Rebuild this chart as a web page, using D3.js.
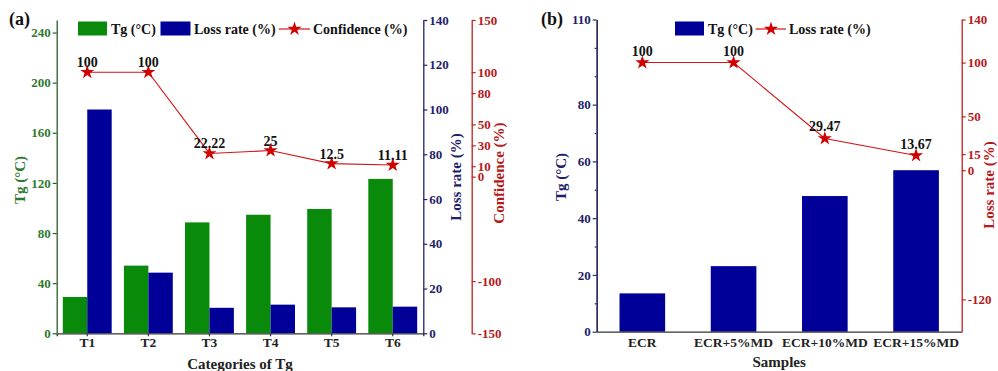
<!DOCTYPE html>
<html><head><meta charset="utf-8">
<script src="https://cdn.jsdelivr.net/npm/d3@7"></script>
<style>
html,body{margin:0;padding:0;background:#fff;}
svg{display:block;font-family:"Liberation Serif","Times New Roman",serif;font-weight:bold;}
</style></head>
<body>
<svg id="chart" width="998" height="371"></svg>
<script>
// ---------- data ----------
const catsA = ["T1","T2","T3","T4","T5","T6"];
const tgA = [29, 54, 88.5, 94.6, 99.2, 123.2];
const lossA = [100, 27.1, 11.4, 12.8, 11.6, 11.9];
const confA = [100, 100, 22.22, 25, 12.5, 11.11];
const confLabelsA = ["100","100","22.22","25","12.5","11.11"];

const catsB = ["ECR","ECR+5%MD","ECR+10%MD","ECR+15%MD"];
const tgB = [13.5, 23.1, 47.8, 56.9];
const lossB = [100, 100, 29.47, 13.67];
const lossLabelsB = ["100","100","29.47","13.67"];

const tgTicksA = [0,40,80,120,160,200,240];
const lossTicksA = [0,20,40,60,80,100,120,140];
const confTicksA = [150,100,80,50,30,10,0,-100,-150];
const tgTicksB = [0,20,40,60,80,110];
const tgMinorB = [10,30,50,70,90,100];
const lossTicksB = [140,100,50,15,0,-120];

// ---------- colors ----------
const GREEN = "#0a8a0a", BLUE = "#000099", RED = "#d21414";
const GREEN_T = "#2f7a2f", NAVY_T = "#1e1e6a", RED_T = "#b51a1a";

const svg = d3.select("#chart");
svg.append("rect").attr("width",998).attr("height",371).attr("fill","#fff");
const fmt = d => String(d); // hyphen minus, like the original
const star = d3.symbol().type(d3.symbolStar).size(62);

function styleAxis(g, color, textColor, size){
  g.selectAll("path.domain").attr("stroke", color).attr("stroke-width",1.3);
  g.selectAll(".tick line").attr("stroke", color).attr("stroke-width",1.2);
  g.selectAll(".tick text").attr("fill", textColor)
    .style("font-family",'"Liberation Serif",serif').style("font-weight","bold")
    .style("font-size", (size||13)+"px");
}
function vTitle(x, y, txt, color){
  svg.append("text").attr("transform",`translate(${x},${y}) rotate(-90)`)
    .attr("text-anchor","middle").attr("fill",color)
    .style("font-size","15px").text(txt);
}

// ================= Panel (a) =================
const aL = 56.7, aR = 423.3, aTop = 20, aBot = 333.3;
const xA = d3.scaleBand().domain(catsA).range([aL,aR]).paddingInner(0.2).paddingOuter(0.1);
const xSubA = d3.scaleBand().domain(["tg","loss"]).range([0,xA.bandwidth()]);
const yTgA = d3.scaleLinear().domain([0,250]).range([aBot,aTop]);
const yLossA = d3.scaleLinear().domain([0,140]).range([aBot,aTop]);
const yConfA = d3.scaleLinear().domain([-150,150]).range([aBot,aTop]);

// bars
svg.append("g").selectAll("rect").data(catsA).join("rect")
  .attr("x", d => xA(d)+xSubA("tg")).attr("width", xSubA.bandwidth())
  .attr("y", (d,i) => yTgA(tgA[i])).attr("height", (d,i) => yTgA(0)-yTgA(tgA[i]))
  .attr("fill", GREEN);
svg.append("g").selectAll("rect").data(catsA).join("rect")
  .attr("x", d => xA(d)+xSubA("loss")).attr("width", xSubA.bandwidth())
  .attr("y", (d,i) => yLossA(lossA[i])).attr("height", (d,i) => yLossA(0)-yLossA(lossA[i]))
  .attr("fill", BLUE);

// axes
const gxA = svg.append("g").attr("transform",`translate(0,${aBot})`)
  .call(d3.axisBottom(xA).tickSizeOuter(0).tickSize(3).tickPadding(1.5));
styleAxis(gxA, "#333", "#222", 13.5);
const gyA = svg.append("g").attr("transform",`translate(${aL},0)`)
  .call(d3.axisLeft(yTgA).tickValues(tgTicksA).tickFormat(fmt).tickSize(4).tickSizeOuter(0).tickPadding(2));
styleAxis(gyA, "#2d5a2d", GREEN_T);
const gy2A = svg.append("g").attr("transform",`translate(${aR},0)`)
  .call(d3.axisRight(yLossA).tickValues(lossTicksA).tickFormat(fmt).tickSize(4).tickSizeOuter(0).tickPadding(2));
styleAxis(gy2A, "#22226b", NAVY_T);
const gy3A = svg.append("g").attr("transform",`translate(471.7,0)`)
  .call(d3.axisRight(yConfA).tickValues(confTicksA).tickFormat(fmt).tickSize(4).tickSizeOuter(0).tickPadding(2));
styleAxis(gy3A, "#c02020", RED_T);

// line
const cxA = d => xA(d)+xA.bandwidth()/2;
svg.append("path").datum(catsA)
  .attr("d", d3.line().x(d=>cxA(d)).y((d,i)=>yConfA(confA[i])))
  .attr("fill","none").attr("stroke",RED).attr("stroke-width",1.1);
svg.append("g").selectAll("path").data(catsA).join("path")
  .attr("d", star).attr("transform",(d,i)=>`translate(${cxA(d)},${yConfA(confA[i])})`)
  .attr("fill", "#d00000");
svg.append("g").selectAll("text").data(catsA).join("text")
  .attr("x", d=>cxA(d)).attr("y",(d,i)=>yConfA(confA[i])-5)
  .attr("text-anchor","middle").attr("fill","#111").style("font-size","14px")
  .text((d,i)=>confLabelsA[i]);

// titles
vTitle(25, 180, "Tg (°C)", GREEN_T);
vTitle(461, 177, "Loss rate (%)", NAVY_T);
vTitle(504, 173, "Confidence (%)", RED_T);
svg.append("text").attr("x",(aL+aR)/2).attr("y",369).attr("text-anchor","middle")
  .attr("fill","#222").style("font-size","15px").text("Categories of Tg");
svg.append("text").attr("x",9).attr("y",25).attr("fill","#111").style("font-size","18px").text("(a)");

// legend (a)
const lgA = svg.append("g");
lgA.append("rect").attr("x",78).attr("y",21.5).attr("width",29).attr("height",14).attr("fill",GREEN);
lgA.append("text").attr("x",111).attr("y",34).style("font-size","14px").attr("fill","#111").text("Tg (°C)");
lgA.append("rect").attr("x",160.5).attr("y",21.5).attr("width",30).attr("height",14).attr("fill",BLUE);
lgA.append("text").attr("x",194).attr("y",34).style("font-size","14px").attr("fill","#111").text("Loss rate (%)");
lgA.append("line").attr("x1",279).attr("x2",310).attr("y1",29).attr("y2",29).attr("stroke",RED).attr("stroke-width",1.2);
lgA.append("path").attr("d",star).attr("transform","translate(294.5,29)").attr("fill","#d00000");
lgA.append("text").attr("x",313).attr("y",34).style("font-size","14px").attr("fill","#111").text("Confidence (%)");

// ================= Panel (b) =================
const bL = 596.7, bR = 961.7, bTop = 19.5, bBot = 331.7;
const xB = d3.scaleBand().domain(catsB).range([bL,bR]).paddingInner(0.5).paddingOuter(0.25);
const yTgB = d3.scaleLinear().domain([0,110]).range([bBot,bTop]);
const yLossB = d3.scaleLinear().domain([-150,140]).range([bBot,bTop]);

svg.append("g").selectAll("rect").data(catsB).join("rect")
  .attr("x", d => xB(d)).attr("width", xB.bandwidth())
  .attr("y", (d,i) => yTgB(tgB[i])).attr("height", (d,i) => yTgB(0)-yTgB(tgB[i]))
  .attr("fill", BLUE);

const gxB = svg.append("g").attr("transform",`translate(0,${bBot})`)
  .call(d3.axisBottom(xB).tickSizeOuter(0).tickSize(0).tickPadding(6));
styleAxis(gxB, "#333", "#222", 13.5);
const gyMinB = svg.append("g").attr("transform",`translate(${bL},0)`)
  .call(d3.axisLeft(yTgB).tickValues(tgMinorB).tickFormat("").tickSize(2).tickSizeOuter(0));
styleAxis(gyMinB, "#2b2b5e", NAVY_T);
const gyB = svg.append("g").attr("transform",`translate(${bL},0)`)
  .call(d3.axisLeft(yTgB).tickValues(tgTicksB).tickFormat(fmt).tickSize(4).tickSizeOuter(0).tickPadding(2));
styleAxis(gyB, "#2b2b5e", NAVY_T);
const gy2B = svg.append("g").attr("transform",`translate(${bR},0)`)
  .call(d3.axisRight(yLossB).tickValues(lossTicksB).tickFormat(fmt).tickSize(4).tickSizeOuter(0).tickPadding(2));
styleAxis(gy2B, "#c02020", RED_T);

const cxB = d => xB(d)+xB.bandwidth()/2;
svg.append("path").datum(catsB)
  .attr("d", d3.line().x(d=>cxB(d)).y((d,i)=>yLossB(lossB[i])))
  .attr("fill","none").attr("stroke",RED).attr("stroke-width",1.1);
svg.append("g").selectAll("path").data(catsB).join("path")
  .attr("d", star).attr("transform",(d,i)=>`translate(${cxB(d)},${yLossB(lossB[i])})`)
  .attr("fill", "#d00000");
svg.append("g").selectAll("text").data(catsB).join("text")
  .attr("x", d=>cxB(d)).attr("y",(d,i)=>yLossB(lossB[i])-7)
  .attr("text-anchor","middle").attr("fill","#111").style("font-size","14px")
  .text((d,i)=>lossLabelsB[i]);

vTitle(566, 177, "Tg (°C)", NAVY_T);
vTitle(994, 185, "Loss rate (%)", RED_T);
svg.append("text").attr("x",(bL+bR)/2).attr("y",367).attr("text-anchor","middle")
  .attr("fill","#222").style("font-size","15px").text("Samples");
svg.append("text").attr("x",541).attr("y",25).attr("fill","#111").style("font-size","18px").text("(b)");

const lgB = svg.append("g");
lgB.append("rect").attr("x",675).attr("y",21.5).attr("width",29).attr("height",14).attr("fill",BLUE);
lgB.append("text").attr("x",708).attr("y",34).style("font-size","14px").attr("fill","#111").text("Tg (°C)");
lgB.append("line").attr("x1",755.5).attr("x2",786).attr("y1",29).attr("y2",29).attr("stroke",RED).attr("stroke-width",1.2);
lgB.append("path").attr("d",star).attr("transform","translate(771,29)").attr("fill","#d00000");
lgB.append("text").attr("x",789).attr("y",34).style("font-size","14px").attr("fill","#111").text("Loss rate (%)");
</script>
</body></html>
